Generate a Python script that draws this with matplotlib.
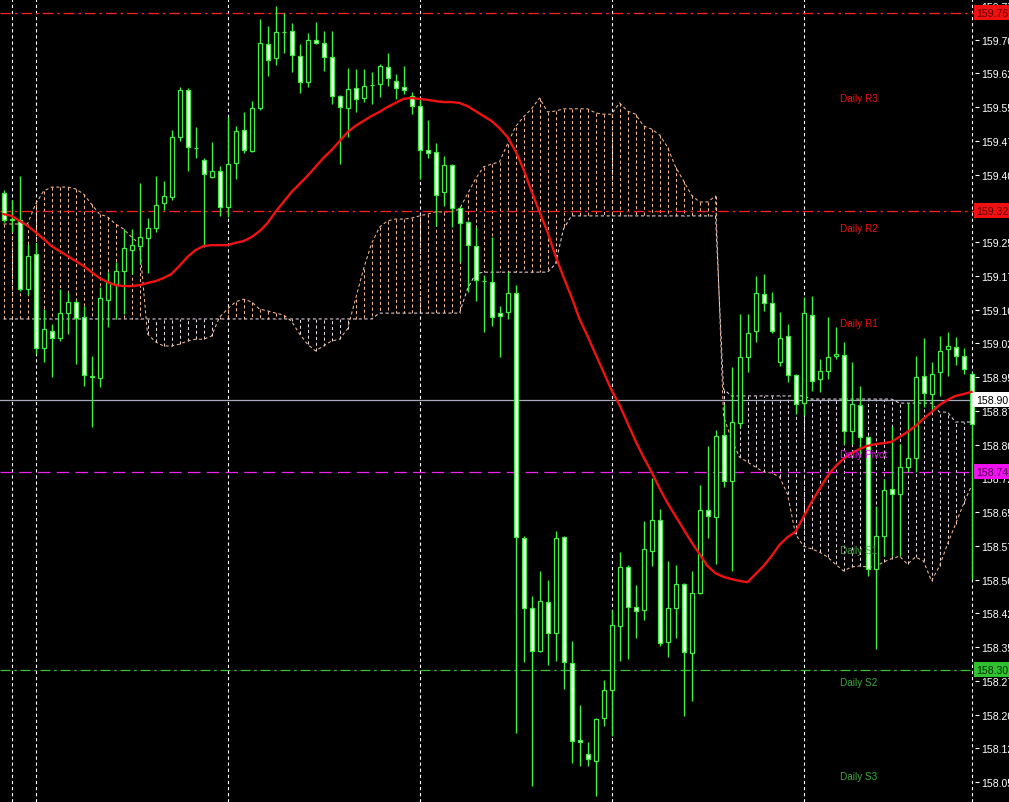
import matplotlib
matplotlib.use("Agg")
import matplotlib.pyplot as plt
import matplotlib.transforms as mtrans
import numpy as np

# ---------------- data (prices) ----------------
opens = [159.359,159.299,159.299,159.146,159.223,159.014,159.052,159.037,159.092,159.117,
         159.083,158.950,158.948,159.121,159.157,159.186,159.232,159.241,159.259,159.281,
         159.337,159.350,159.483,159.588,159.459,159.432,159.394,159.408,159.328,159.426,
         159.499,159.452,159.548,159.690,159.659,159.716,159.719,159.663,159.606,159.699,
         159.692,159.661,159.574,159.548,159.592,159.570,159.598,159.601,159.639,159.608,
         159.594,159.574,159.552,159.454,159.450,159.361,159.421,159.326,159.294,159.241,
         159.163,159.161,159.092,159.094,159.137,158.592,158.437,158.341,158.450,158.381,
         158.594,158.314,158.143,158.112,158.097,158.192,158.254,158.397,158.528,158.439,
         158.432,158.563,158.632,158.361,158.437,158.490,158.337,158.470,158.654,158.639,
         158.821,158.719,158.848,158.994,159.052,159.134,159.114,158.983,159.041,158.954,
         158.892,159.088,158.946,158.963,158.997,158.999,158.830,158.888,158.817,158.523,
         158.597,158.701,158.690,158.750,158.770,158.952,158.912,158.961,159.012,159.017,
         158.997,158.957]
highs = [159.366,159.343,159.397,159.246,159.248,159.101,159.068,159.146,159.139,159.121,
         159.108,158.997,159.150,159.183,159.206,159.279,159.279,159.381,159.303,159.397,
         159.386,159.499,159.594,159.592,159.506,159.437,159.472,159.419,159.528,159.508,
         159.539,159.563,159.746,159.730,159.774,159.759,159.737,159.690,159.714,159.739,
         159.719,159.719,159.577,159.637,159.634,159.634,159.628,159.646,159.670,159.623,
         159.641,159.583,159.568,159.521,159.470,159.441,159.423,159.330,159.297,159.283,
         159.177,159.261,159.108,159.183,159.154,158.597,158.463,158.519,158.499,158.608,
         158.597,158.363,158.221,158.139,158.192,158.277,158.432,158.561,158.532,158.488,
         158.630,158.726,158.657,158.541,158.532,158.492,158.519,158.710,158.797,158.832,
         158.890,158.972,159.090,159.090,159.174,159.179,159.139,159.094,159.068,158.957,
         159.128,159.130,158.990,159.083,159.061,159.028,158.983,158.930,158.819,158.663,
         158.723,158.841,158.801,158.892,158.997,159.037,158.983,159.041,159.050,159.039,
         159.014,158.961]
lows = [159.294,159.272,159.141,159.132,159.001,158.983,158.950,159.030,159.046,158.979,
        158.930,158.839,158.928,159.061,159.079,159.090,159.179,159.201,159.181,159.272,
        159.321,159.343,159.474,159.408,159.437,159.239,159.392,159.308,159.306,159.390,
        159.448,159.450,159.543,159.619,159.643,159.670,159.628,159.581,159.594,159.690,
        159.630,159.557,159.423,159.483,159.539,159.561,159.557,159.572,159.597,159.568,
        159.579,159.534,159.390,159.437,159.286,159.330,159.283,159.206,159.139,159.119,
        159.050,159.063,158.994,159.079,158.159,158.317,158.041,158.339,158.310,158.319,
        158.257,158.092,158.086,158.086,158.019,158.174,158.152,158.319,158.323,158.370,
        158.410,158.530,158.352,158.328,158.370,158.197,158.230,158.468,158.592,158.534,
        158.706,158.519,158.839,158.961,159.028,159.097,159.048,158.974,158.939,158.868,
        158.866,158.919,158.917,158.946,158.990,158.801,158.801,158.774,158.508,158.346,
        158.552,158.552,158.552,158.739,158.739,158.883,158.872,158.908,158.952,158.977,
        158.957,158.501]
closes = [159.299,159.301,159.146,159.219,159.014,159.057,159.037,159.092,159.117,159.081,
          158.954,158.953,159.126,159.161,159.186,159.237,159.243,159.261,159.281,159.332,
          159.352,159.483,159.588,159.461,159.458,159.401,159.408,159.328,159.423,159.497,
          159.454,159.548,159.692,159.654,159.717,159.717,159.666,159.606,159.699,159.693,
          159.661,159.574,159.550,159.590,159.568,159.597,159.599,159.641,159.614,159.592,
          159.588,159.552,159.454,159.448,159.354,159.421,159.326,159.292,159.243,159.166,
          159.164,159.083,159.086,159.137,158.594,158.437,158.341,158.452,158.381,158.592,
          158.317,158.141,158.139,158.101,158.190,158.254,158.399,158.528,158.439,158.430,
          158.568,158.632,158.359,158.437,158.490,158.339,158.470,158.654,158.641,158.819,
          158.719,158.850,158.994,159.048,159.137,159.114,159.052,159.037,158.954,158.890,
          159.092,158.941,158.963,158.994,159.001,158.830,158.890,158.817,158.523,158.597,
          158.699,158.690,158.750,158.770,158.950,158.914,158.957,159.008,159.019,158.997,
          158.968,158.846]

ma_values = [159.312,159.308,159.297,159.286,159.272,159.257,159.241,159.230,159.219,159.208,
             159.197,159.183,159.170,159.161,159.154,159.152,159.152,159.154,159.159,159.163,
             159.170,159.179,159.197,159.217,159.232,159.241,159.243,159.243,159.243,159.248,
             159.252,159.261,159.274,159.292,159.317,159.339,159.361,159.379,159.397,159.417,
             159.437,159.454,159.474,159.494,159.508,159.519,159.530,159.539,159.550,159.559,
             159.568,159.570,159.568,159.566,159.563,159.561,159.561,159.559,159.552,159.541,
             159.530,159.519,159.503,159.483,159.452,159.412,159.363,159.317,159.272,159.219,
             159.172,159.128,159.079,159.041,159.001,158.961,158.921,158.888,158.848,158.808,
             158.772,158.739,158.703,158.670,158.641,158.612,158.583,158.557,158.530,158.514,
             158.506,158.501,158.497,158.494,158.512,158.530,158.552,158.577,158.594,158.606,
             158.639,158.672,158.701,158.730,158.752,158.768,158.781,158.790,158.797,158.801,
             158.803,158.806,158.817,158.828,158.841,158.857,158.872,158.888,158.899,158.908,
             158.912,158.917]

span_a = [159.290,159.290,159.290,159.290,159.334,159.363,159.372,159.372,159.372,159.368,
          159.357,159.334,159.312,159.306,159.290,159.279,159.261,159.246,159.046,159.028,
          159.019,159.019,159.023,159.030,159.034,159.034,159.041,159.083,159.101,159.117,
          159.123,159.117,159.101,159.097,159.092,159.088,159.074,159.046,159.023,159.008,
          159.019,159.030,159.034,159.057,159.123,159.190,159.246,159.283,159.297,159.301,
          159.301,159.303,159.308,159.312,159.317,159.317,159.317,159.323,159.357,159.390,
          159.417,159.423,159.428,159.468,159.506,159.528,159.546,159.570,159.539,159.541,
          159.546,159.546,159.546,159.546,159.537,159.534,159.534,159.559,159.541,159.534,
          159.508,159.501,159.488,159.461,159.417,159.386,159.354,159.339,159.339,159.352,
          158.863,158.812,158.772,158.761,158.750,158.739,158.737,158.728,158.690,158.601,
          158.574,158.568,158.561,158.550,158.534,158.519,158.528,158.530,158.528,158.528,
          158.539,158.546,158.552,158.534,158.550,158.541,158.497,158.530,158.579,158.623,
          158.668,158.708]
span_b = [159.079]*47 + [159.092]*11 + [159.146, 159.179] + [159.183]*9 + [159.201, 159.279] \
         + [159.308]*19 + [158.923] + [158.908]*10 + [158.901]*11 + [158.892]*5 \
         + [158.872]*2 + [158.850]*3

grid_bars = [1, 4, 28, 52, 76, 100, 121]

tick_values = [158.05, 158.125, 158.20, 158.275, 158.35, 158.425, 158.50, 158.575,
               158.65, 158.725, 158.80, 158.875, 158.95, 159.025, 159.10, 159.175,
               159.25, 159.40, 159.475, 159.55, 159.625, 159.70, 159.775]
tick_labels = ["158.05", "158.12", "158.20", "158.27", "158.35", "158.42", "158.50", "158.57",
               "158.65", "158.72", "158.80", "158.87", "158.95", "159.02", "159.10", "159.17",
               "159.25", "159.40", "159.47", "159.55", "159.62", "159.70", "159.77"]

level_values = [159.76, 159.32, 158.90, 158.74, 158.30]
level_names = ["159.76", "159.32", "158.90", "158.74", "158.30"]

pivot_names = ["Daily R3", "Daily R2", "Daily R1", "Daily Pivot", "Daily S1", "Daily S2", "Daily S3"]
pivot_label_prices = [159.570, 159.281, 159.070, 158.779, 158.566, 158.272, 158.063]

# ---------------- figure ----------------
W, H, DPI = 1009, 803, 100
fig = plt.figure(figsize=(W / DPI, H / DPI), dpi=DPI, facecolor="black")
ax = fig.add_axes([0, 0, 975 / W, 1])
ax.set_facecolor("black")
ax.set_xlim(-0.4375, 121.4375)
ax.set_ylim(158.0056, 159.79)
for s in ax.spines.values():
    s.set_visible(False)
ax.set_xticks([])

GREEN = "#40F040"
BEAR_FILL = "#F4FFF4"
PEACH = "#F4B890"
THISTLE = "#E6D6E6"

n = len(opens)
xs = np.arange(n)

# grid (vertical dotted white)
for g in grid_bars:
    ax.axvline(g, color="white", lw=0.8, dashes=(3, 2.5), zorder=1)

# ichimoku cloud hatching
a = np.array(span_a)
b = np.array(span_b)
for i in range(n):
    col = PEACH if a[i] > b[i] else THISTLE
    ax.plot([i, i], [a[i], b[i]], color=col, lw=0.75, dashes=(3, 2.5), zorder=2)
ax.plot(xs, a, color=PEACH, lw=0.75, dashes=(3, 2.5), zorder=2)
ax.plot(xs, b, color=THISTLE, lw=0.75, dashes=(3, 2.5), zorder=2)

# horizontal levels
ax.axhline(level_values[0], color="#FF2020", lw=0.95, dashes=(8, 3, 2, 3), zorder=2)
ax.axhline(level_values[1], color="#FF2020", lw=0.95, dashes=(8, 3, 2, 3), zorder=2)
ax.axhline(level_values[2], color="#A8AAC0", lw=0.9, zorder=2)
ax.axhline(level_values[3], color="#F020F0", lw=0.9, dashes=(10, 5), zorder=2)
ax.axhline(level_values[4], color="#38C038", lw=0.9, dashes=(8, 3, 2, 3), zorder=2)

# pivot labels
pcolors = ["#F01010", "#F01010", "#F01010", "#F010F0", "#3AAA3A", "#3AAA3A", "#3AAA3A"]
tr = mtrans.blended_transform_factory(ax.transAxes, ax.transData)
for name, p, c in zip(pivot_names, pivot_label_prices, pcolors):
    ax.text(840 / 975, p, name, transform=tr, color=c, fontsize=7.2,
            family="Liberation Sans", ha="left", va="center", zorder=6)

# candles
for i in range(n):
    o, h, l, c = opens[i], highs[i], lows[i], closes[i]
    ax.vlines(i, l, h, color=GREEN, lw=1.0, zorder=3)
    lo, hi = min(o, c), max(o, c)
    fill = "black" if c > o else BEAR_FILL
    ax.bar(i, max(hi - lo, 0.0005), bottom=lo, width=0.5, color=fill,
           edgecolor=GREEN, linewidth=0.9, zorder=4)

# moving average
ax.plot(xs, ma_values, color="#F01212", lw=1.7, zorder=5)

# right price scale
ax.yaxis.tick_right()
ax.set_yticks(tick_values)
ax.set_yticklabels(tick_labels)
ax.tick_params(axis="y", colors="white", labelcolor="white", length=3, width=0.8,
               labelsize=7.6, pad=1.5, direction="out")
for t in ax.get_yticklabels():
    t.set_family("Liberation Sans")

box_colors = ["#F01010", "#F01010", "#FFFFFF", "#F010F0", "#30C030"]
text_colors = ["#600000", "#600000", "#000000", "#500050", "#003000"]
for v, s, bc, tc in zip(level_values, level_names, box_colors, text_colors):
    ax.text(1.0 + 1 / 975, v, s, transform=tr, color=tc, fontsize=7.6, family="Liberation Sans",
            ha="left", va="center", clip_on=False, zorder=10,
            bbox=dict(boxstyle="square,pad=0.2", facecolor=bc, edgecolor="none"))

fig.savefig("out.png", dpi=DPI, facecolor="black")
